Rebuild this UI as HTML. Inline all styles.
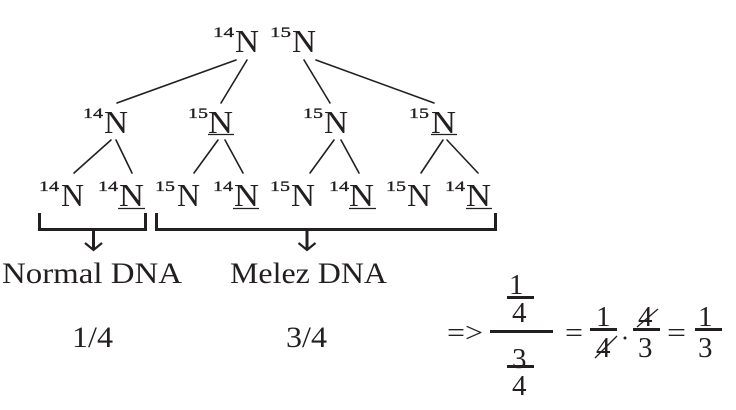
<!DOCTYPE html>
<html><head><meta charset="utf-8"><style>
html,body{margin:0;padding:0;background:#fff;}
svg{display:block;}
text{font-family:"Liberation Serif",serif;fill:#231f20;}
</style></head><body>
<svg width="736" height="410" viewBox="0 0 736 410" xmlns="http://www.w3.org/2000/svg">
<g stroke="#231f20" stroke-width="1.6" fill="none" stroke-linecap="round">
<line x1="236" y1="60" x2="117" y2="103"/>
<line x1="247" y1="60" x2="221" y2="103"/>
<line x1="304" y1="60" x2="330" y2="103"/>
<line x1="316" y1="60" x2="434" y2="103"/>
<line x1="111" y1="140" x2="74" y2="173"/>
<line x1="116" y1="140" x2="132" y2="173"/>
<line x1="218" y1="140" x2="194" y2="173"/>
<line x1="225" y1="140" x2="243" y2="173"/>
<line x1="334" y1="140" x2="310" y2="173"/>
<line x1="341" y1="140" x2="359" y2="173"/>
<line x1="443" y1="140" x2="421" y2="173"/>
<line x1="447" y1="140" x2="478" y2="173"/>
</g>
<g stroke="#231f20" stroke-width="1.2">
<line x1="208" y1="134.5" x2="234" y2="134.5"/>
<line x1="431" y1="134.5" x2="457" y2="134.5"/>
<line x1="118" y1="208.5" x2="145" y2="208.5"/>
<line x1="233" y1="208.5" x2="259" y2="208.5"/>
<line x1="349" y1="208.5" x2="376" y2="208.5"/>
<line x1="466" y1="208.5" x2="492" y2="208.5"/>
</g>
<g stroke="#231f20" stroke-width="3" fill="none">
<path d="M39.5,213 V229.5 H145.5 V213"/>
<path d="M156.5,213 V229.5 H495.5 V213"/>
<line x1="93.5" y1="229" x2="93.5" y2="249"/>
<line x1="307" y1="229" x2="307" y2="249"/>
</g>
<g stroke="#231f20" stroke-width="2.2" fill="none">
<polyline points="85,243 93.5,250 102,243"/>
<polyline points="298.5,243 307,250 315.5,243"/>
</g>
<!-- superscripts -->
<g font-size="15" stroke="#231f20" stroke-width="0.35">
<text x="213" y="37" textLength="21" lengthAdjust="spacingAndGlyphs">14</text>
<text x="270" y="37" textLength="21" lengthAdjust="spacingAndGlyphs">15</text>
<text x="83" y="118" textLength="20" lengthAdjust="spacingAndGlyphs">14</text>
<text x="188" y="118" textLength="20" lengthAdjust="spacingAndGlyphs">15</text>
<text x="303" y="118" textLength="20" lengthAdjust="spacingAndGlyphs">15</text>
<text x="409" y="118" textLength="20" lengthAdjust="spacingAndGlyphs">15</text>
<text x="39" y="191" textLength="20" lengthAdjust="spacingAndGlyphs">14</text>
<text x="98" y="191" textLength="20" lengthAdjust="spacingAndGlyphs">14</text>
<text x="155" y="191" textLength="20" lengthAdjust="spacingAndGlyphs">15</text>
<text x="213" y="191" textLength="20" lengthAdjust="spacingAndGlyphs">14</text>
<text x="270" y="191" textLength="20" lengthAdjust="spacingAndGlyphs">15</text>
<text x="329" y="191" textLength="20" lengthAdjust="spacingAndGlyphs">14</text>
<text x="386" y="191" textLength="20" lengthAdjust="spacingAndGlyphs">15</text>
<text x="445" y="191" textLength="20" lengthAdjust="spacingAndGlyphs">14</text>
</g>
<g font-size="32">
<text x="235" y="52" textLength="24" lengthAdjust="spacingAndGlyphs">N</text>
<text x="292" y="52" textLength="24" lengthAdjust="spacingAndGlyphs">N</text>
<text x="104" y="133" textLength="24" lengthAdjust="spacingAndGlyphs">N</text>
<text x="208" y="133" textLength="25" lengthAdjust="spacingAndGlyphs">N</text>
<text x="324" y="133" textLength="24" lengthAdjust="spacingAndGlyphs">N</text>
<text x="431" y="133" textLength="25" lengthAdjust="spacingAndGlyphs">N</text>
<text x="61" y="206" textLength="23" lengthAdjust="spacingAndGlyphs">N</text>
<text x="119" y="206" textLength="25" lengthAdjust="spacingAndGlyphs">N</text>
<text x="177" y="206" textLength="23" lengthAdjust="spacingAndGlyphs">N</text>
<text x="234" y="206" textLength="25" lengthAdjust="spacingAndGlyphs">N</text>
<text x="291" y="206" textLength="24" lengthAdjust="spacingAndGlyphs">N</text>
<text x="349" y="206" textLength="25" lengthAdjust="spacingAndGlyphs">N</text>
<text x="407" y="206" textLength="24" lengthAdjust="spacingAndGlyphs">N</text>
<text x="466" y="206" textLength="25" lengthAdjust="spacingAndGlyphs">N</text>
</g>
<g font-size="30">
<text x="2" y="283" textLength="180" lengthAdjust="spacingAndGlyphs">Normal DNA</text>
<text x="230" y="283" textLength="157" lengthAdjust="spacingAndGlyphs">Melez DNA</text>
<text x="72" y="347" textLength="41" lengthAdjust="spacingAndGlyphs">1/4</text>
<text x="286" y="347" textLength="41" lengthAdjust="spacingAndGlyphs">3/4</text>
</g>
<!-- equation -->
<g font-size="29">
<text x="447" y="342" textLength="36" lengthAdjust="spacingAndGlyphs">=&gt;</text>
<text x="509" y="294">1</text>
<text x="512" y="322">4</text>
<text x="512" y="368">3</text>
<text x="512" y="395">4</text>
<text x="565" y="342" textLength="18" lengthAdjust="spacingAndGlyphs">=</text>
<text x="596" y="326">1</text>
<text x="596" y="357">4</text>
<text x="638" y="326">4</text>
<text x="638" y="357">3</text>
<text x="667" y="342" textLength="19" lengthAdjust="spacingAndGlyphs">=</text>
<text x="698" y="326">1</text>
<text x="698" y="357">3</text>
</g>
<g stroke="#231f20" stroke-width="3">
<line x1="490" y1="331.5" x2="553" y2="331.5"/>
<line x1="507" y1="297.5" x2="534" y2="297.5"/>
<line x1="507" y1="366.5" x2="534" y2="366.5"/>
<line x1="590" y1="329.5" x2="617" y2="329.5"/>
<line x1="633" y1="329.5" x2="660" y2="329.5"/>
<line x1="695" y1="329.5" x2="722" y2="329.5"/>
</g>
<g stroke="#231f20" stroke-width="1.3">
<line x1="595" y1="358" x2="617" y2="336"/>
<line x1="637" y1="327" x2="658" y2="309"/>
</g>
<circle cx="625" cy="338" r="1.5" fill="#231f20"/>
</svg>
</body></html>
